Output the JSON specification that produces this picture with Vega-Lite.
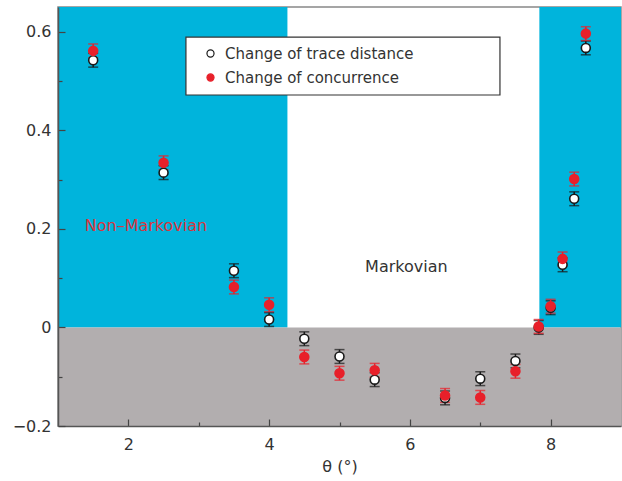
{
  "$schema": "https://vega.github.io/schema/vega-lite/v6.json",
  "width": 563,
  "height": 419,
  "padding": {"left": 12, "top": 7, "right": 1, "bottom": 5},
  "config": {
    "font": "DejaVu Sans",
    "view": {"stroke": "#888", "strokeWidth": 1.5},
    "axis": {"labelFont": "DejaVu Sans", "titleFont": "DejaVu Sans", "labelColor": "#333", "titleColor": "#333", "domainColor": "#555", "domainWidth": 1.5, "tickColor": "#444", "tickWidth": 1.2, "grid": false, "labelFontSize": 16, "titleFontSize": 16, "titleFontWeight": "normal"}
  },
  "datasets": {
    "pts": [
      {"theta": 1.5, "series": "Change of trace distance", "value": 0.542, "lo": 0.528, "hi": 0.556},
      {"theta": 2.5, "series": "Change of trace distance", "value": 0.314, "lo": 0.300, "hi": 0.328},
      {"theta": 3.5, "series": "Change of trace distance", "value": 0.115, "lo": 0.101, "hi": 0.129},
      {"theta": 4.0, "series": "Change of trace distance", "value": 0.016, "lo": 0.002, "hi": 0.030},
      {"theta": 4.5, "series": "Change of trace distance", "value": -0.023, "lo": -0.037, "hi": -0.009},
      {"theta": 5.0, "series": "Change of trace distance", "value": -0.059, "lo": -0.073, "hi": -0.045},
      {"theta": 5.5, "series": "Change of trace distance", "value": -0.106, "lo": -0.120, "hi": -0.092},
      {"theta": 6.5, "series": "Change of trace distance", "value": -0.143, "lo": -0.157, "hi": -0.129},
      {"theta": 7.0, "series": "Change of trace distance", "value": -0.104, "lo": -0.118, "hi": -0.090},
      {"theta": 7.5, "series": "Change of trace distance", "value": -0.068, "lo": -0.082, "hi": -0.054},
      {"theta": 7.83, "series": "Change of trace distance", "value": 0.0, "lo": -0.014, "hi": 0.014},
      {"theta": 8.0, "series": "Change of trace distance", "value": 0.04, "lo": 0.026, "hi": 0.054},
      {"theta": 8.17, "series": "Change of trace distance", "value": 0.127, "lo": 0.113, "hi": 0.141},
      {"theta": 8.335, "series": "Change of trace distance", "value": 0.261, "lo": 0.247, "hi": 0.275},
      {"theta": 8.5, "series": "Change of trace distance", "value": 0.567, "lo": 0.553, "hi": 0.581},
      {"theta": 1.5, "series": "Change of concurrence", "value": 0.561, "lo": 0.547, "hi": 0.575},
      {"theta": 2.5, "series": "Change of concurrence", "value": 0.334, "lo": 0.320, "hi": 0.348},
      {"theta": 3.5, "series": "Change of concurrence", "value": 0.082, "lo": 0.068, "hi": 0.096},
      {"theta": 4.0, "series": "Change of concurrence", "value": 0.046, "lo": 0.032, "hi": 0.060},
      {"theta": 4.5, "series": "Change of concurrence", "value": -0.060, "lo": -0.074, "hi": -0.046},
      {"theta": 5.0, "series": "Change of concurrence", "value": -0.093, "lo": -0.107, "hi": -0.079},
      {"theta": 5.5, "series": "Change of concurrence", "value": -0.087, "lo": -0.101, "hi": -0.073},
      {"theta": 6.5, "series": "Change of concurrence", "value": -0.138, "lo": -0.152, "hi": -0.124},
      {"theta": 7.0, "series": "Change of concurrence", "value": -0.142, "lo": -0.156, "hi": -0.128},
      {"theta": 7.5, "series": "Change of concurrence", "value": -0.089, "lo": -0.103, "hi": -0.075},
      {"theta": 7.83, "series": "Change of concurrence", "value": 0.002, "lo": -0.012, "hi": 0.016},
      {"theta": 8.0, "series": "Change of concurrence", "value": 0.043, "lo": 0.029, "hi": 0.057},
      {"theta": 8.17, "series": "Change of concurrence", "value": 0.139, "lo": 0.125, "hi": 0.153},
      {"theta": 8.335, "series": "Change of concurrence", "value": 0.301, "lo": 0.287, "hi": 0.315},
      {"theta": 8.5, "series": "Change of concurrence", "value": 0.596, "lo": 0.582, "hi": 0.610}
    ]
  },
  "layer": [
    {
      "data": {"values": [{"x1": 1, "x2": 4.26, "y1": 0, "y2": 0.65}, {"x1": 7.84, "x2": 9, "y1": 0, "y2": 0.65}]},
      "mark": {"type": "rect", "color": "#00b4dc", "opacity": 1},
      "encoding": {
        "x": {"field": "x1", "type": "quantitative", "scale": {"domain": [1, 9], "nice": false, "zero": false},
          "axis": {"values": [2, 3, 4, 5, 6, 7, 8], "format": "d", "labelExpr": "datum.value % 2 == 0 ? datum.label : ''",
            "tickSize": {"condition": {"test": "datum.value % 2 == 0", "value": -7}, "value": -4},
            "labelPadding": 17, "title": "θ (°)", "titlePadding": 6, "zindex": 1}},
        "x2": {"field": "x2"},
        "y": {"field": "y1", "type": "quantitative", "scale": {"domain": [-0.2, 0.65], "nice": false, "zero": false},
          "axis": {"values": [-0.2, -0.1, 0, 0.1, 0.2, 0.3, 0.4, 0.5, 0.6], "format": ".1~f",
            "labelExpr": "round(datum.value*10) % 2 == 0 ? datum.label : ''",
            "tickSize": {"condition": {"test": "round(datum.value*10) % 2 == 0", "value": -7}, "value": -4},
            "labelPadding": 14, "title": null, "zindex": 1}},
        "y2": {"field": "y2"}
      }
    },
    {
      "data": {"values": [{"x1": 1, "x2": 9, "y1": -0.2, "y2": 0}]},
      "mark": {"type": "rect", "color": "#b2aeaf", "opacity": 1},
      "encoding": {
        "x": {"field": "x1", "type": "quantitative"},
        "x2": {"field": "x2"},
        "y": {"field": "y1", "type": "quantitative"},
        "y2": {"field": "y2"}
      }
    },
    {
      "data": {"values": [{"x1": 2.818, "x2": 7.28, "y1": 0.4715, "y2": 0.589}]},
      "mark": {"type": "rect", "fill": "#ffffff", "stroke": "#333", "strokeWidth": 1.2, "opacity": 1},
      "encoding": {
        "x": {"field": "x1", "type": "quantitative"},
        "x2": {"field": "x2"},
        "y": {"field": "y1", "type": "quantitative"},
        "y2": {"field": "y2"}
      }
    },
    {
      "data": {"values": [{"label": "Non–Markovian", "x": 1.38, "y": 0.205}]},
      "mark": {"type": "text", "align": "left", "baseline": "middle", "fontSize": 16, "color": "#d9363e"},
      "encoding": {
        "x": {"field": "x", "type": "quantitative"},
        "y": {"field": "y", "type": "quantitative"},
        "text": {"field": "label"}
      }
    },
    {
      "data": {"values": [{"label": "Markovian", "x": 5.95, "y": 0.123}]},
      "mark": {"type": "text", "align": "center", "baseline": "middle", "fontSize": 16, "color": "#333"},
      "encoding": {
        "x": {"field": "x", "type": "quantitative"},
        "y": {"field": "y", "type": "quantitative"},
        "text": {"field": "label"}
      }
    },
    {
      "data": {"name": "pts"},
      "transform": [{"filter": "datum.series == 'Change of trace distance'"}],
      "layer": [
        {"mark": {"type": "rule", "strokeWidth": 1.5, "color": "#1a1a1a"},
          "encoding": {"x": {"field": "theta", "type": "quantitative"}, "y": {"field": "lo", "type": "quantitative"}, "y2": {"field": "hi"}}},
        {"mark": {"type": "tick", "size": 10, "thickness": 1.5, "orient": "horizontal", "color": "#1a1a1a"},
          "encoding": {"x": {"field": "theta", "type": "quantitative"}, "y": {"field": "lo", "type": "quantitative"}}},
        {"mark": {"type": "tick", "size": 10, "thickness": 1.5, "orient": "horizontal", "color": "#1a1a1a"},
          "encoding": {"x": {"field": "theta", "type": "quantitative"}, "y": {"field": "hi", "type": "quantitative"}}}
      ]
    },
    {
      "data": {"name": "pts"},
      "transform": [{"filter": "datum.series == 'Change of concurrence'"}],
      "layer": [
        {"mark": {"type": "rule", "strokeWidth": 1.5, "color": "#e8202a"},
          "encoding": {"x": {"field": "theta", "type": "quantitative"}, "y": {"field": "lo", "type": "quantitative"}, "y2": {"field": "hi"}}},
        {"mark": {"type": "tick", "size": 10, "thickness": 1.5, "orient": "horizontal", "color": "#e8202a"},
          "encoding": {"x": {"field": "theta", "type": "quantitative"}, "y": {"field": "lo", "type": "quantitative"}}},
        {"mark": {"type": "tick", "size": 10, "thickness": 1.5, "orient": "horizontal", "color": "#e8202a"},
          "encoding": {"x": {"field": "theta", "type": "quantitative"}, "y": {"field": "hi", "type": "quantitative"}}}
      ]
    },
    {
      "data": {"name": "pts"},
      "mark": {"type": "point", "shape": "circle", "filled": true, "size": 80, "strokeWidth": 1.6, "opacity": 1},
      "encoding": {
        "x": {"field": "theta", "type": "quantitative"},
        "y": {"field": "value", "type": "quantitative"},
        "fill": {"field": "series", "type": "nominal",
          "scale": {"domain": ["Change of trace distance", "Change of concurrence"], "range": ["#ffffff", "#e8202a"]},
          "legend": {"title": null, "orient": "none", "legendX": 128, "legendY": 30,
            "padding": 9, "labelFontSize": 15, "labelFont": "DejaVu Sans", "labelColor": "#333", "symbolSize": 50, "symbolStrokeWidth": 1.2,
            "symbolOffset": 8, "rowPadding": 8, "labelOffset": 7, "labelLimit": 500}},
        "stroke": {"field": "series", "type": "nominal",
          "scale": {"domain": ["Change of trace distance", "Change of concurrence"], "range": ["#1a1a1a", "#e8202a"]},
          "legend": {"title": null, "orient": "none", "legendX": 128, "legendY": 30,
            "padding": 9, "labelFontSize": 15, "labelFont": "DejaVu Sans", "labelColor": "#333", "symbolSize": 50, "symbolStrokeWidth": 1.2,
            "symbolOffset": 8, "rowPadding": 8, "labelOffset": 7, "labelLimit": 500}}
      }
    }
  ]
}
